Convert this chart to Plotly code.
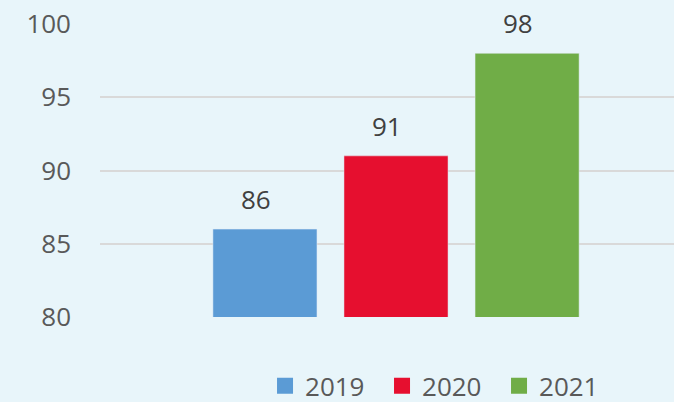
import plotly.graph_objects as go

years = ["2019", "2020", "2021"]
values = [86, 91, 98]
colors = ["#5B9BD5", "#E60F2F", "#70AD47"]
category = [""]

font_family = "Open Sans"
fig = go.Figure()
for yr, v, c in zip(years, values, colors):
    fig.add_trace(go.Bar(
        x=category, y=[v], name=yr, marker_color=c, showlegend=False,
    ))
for yr, c in zip(years, colors):
    fig.add_trace(go.Scatter(
        x=[None], y=[None], mode="markers", name=yr,
        marker=dict(symbol="square", size=18, color=c),
    ))

bar_pitch_px = 131
for i, v in enumerate(values):
    fig.add_annotation(
        x=category[0], y=v, xref="x", yref="y", text=str(v), showarrow=False,
        yanchor="bottom", yshift=10, xshift=(i - 1) * bar_pitch_px,
        font=dict(size=26, color="#404040", family=font_family),
    )

fig.update_layout(
    width=674, height=402,
    margin=dict(l=100, r=0, t=24, b=85, autoexpand=False),
    paper_bgcolor="#E8F5FA", plot_bgcolor="#E8F5FA",
    barmode="group", bargap=0.315, bargroupgap=0.206,
    font=dict(family=font_family, size=26, color="#595959"),
    legend=dict(orientation="h", x=0.2875, xanchor="left", y=-0.155, yanchor="top",
                font=dict(size=26, color="#595959"), itemsizing="trace",
                entrywidth=72, entrywidthmode="pixels",
                bgcolor="rgba(0,0,0,0)", traceorder="normal"),
    xaxis=dict(type="category", range=[-0.5157, 0.4843], showticklabels=False,
               showgrid=False, zeroline=False, showline=False),
    yaxis=dict(range=[80, 100], tickvals=[80, 85, 90, 95, 100], showgrid=True,
               gridcolor="#D9D9D9", gridwidth=1.5, zeroline=False, showline=False,
               ticklabelstandoff=28, tickfont=dict(size=26, color="#595959")),
)
fig.write_html("out.html", config={"displayModeBar": False},
               post_script="document.body.style.margin='0';document.body.style.overflow='hidden';")
